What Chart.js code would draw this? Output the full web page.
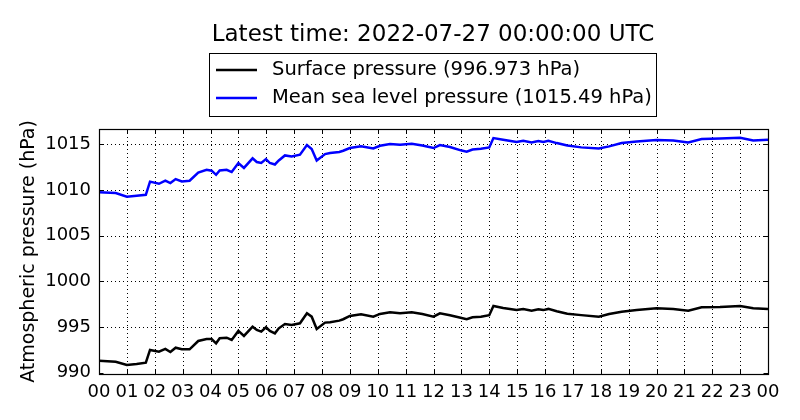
<!DOCTYPE html>
<html>
<head>
<meta charset="utf-8">
<script src="https://cdn.jsdelivr.net/npm/chart.js@4"></script>
<style>
html,body{margin:0;padding:0;background:#fff;}
canvas{display:block;}
</style>
</head>
<body>
<canvas id="c" width="800" height="420" style="width:800px;height:420px"></canvas>
<script>
const chartTitle = "Latest time: 2022-07-27 00:00:00 UTC";
const yAxisTitle = "Atmospheric pressure (hPa)";
const seriesLabels = ["Surface pressure (996.973 hPa)", "Mean sea level pressure (1015.49 hPa)"];
const seriesColors = ["#000000", "#0000ff"];

const hours = [0, 0.6, 1.0, 1.35, 1.68, 1.83, 2.15, 2.38, 2.56, 2.75, 2.97, 3.25, 3.56, 3.86, 4.04, 4.2, 4.33, 4.58, 4.76, 5.0,
  5.2, 5.51, 5.66, 5.82, 5.99, 6.13, 6.31, 6.45, 6.67, 6.91, 7.21, 7.46, 7.63, 7.81, 8.11, 8.29, 8.62, 8.76, 9.0, 9.4,
  9.84, 10.08, 10.44, 10.8, 11.22, 11.6, 12.0, 12.23, 12.59, 13.01, 13.19, 13.4, 13.7, 14.0, 14.15, 14.5, 14.98, 15.22, 15.52, 15.76,
  15.94, 16.12, 16.42, 16.8, 17.3, 17.93, 18.3, 18.75, 19.29, 20.0, 20.6, 21.14, 21.62, 22.28, 23.0, 23.47, 24.0];

const surfacePressure = [991.31, 991.2, 990.84, 990.95, 991.1, 992.49, 992.3, 992.6, 992.27, 992.74, 992.56, 992.56, 993.47, 993.69, 993.69, 993.22, 993.77, 993.83, 993.58, 994.57,
  994.02, 995.04, 994.68, 994.49, 994.97, 994.57, 994.31, 994.86, 995.33, 995.22, 995.41, 996.5, 996.13, 994.79, 995.48, 995.52, 995.7, 995.85, 996.21, 996.4,
  996.13, 996.43, 996.61, 996.5, 996.61, 996.43, 996.13, 996.5, 996.29, 995.99, 995.85, 996.07, 996.13, 996.29, 997.3, 997.09, 996.87, 996.98, 996.79, 996.94,
  996.85, 996.98, 996.72, 996.45, 996.3, 996.13, 996.43, 996.68, 996.87, 997.05, 996.98, 996.79, 997.16, 997.2, 997.3, 997.05, 996.97];

const seaLevelPressure = [1009.75, 1009.65, 1009.25, 1009.35, 1009.46, 1010.9, 1010.67, 1011.0, 1010.74, 1011.18, 1010.92, 1011.0, 1011.9, 1012.2, 1012.1, 1011.65, 1012.12, 1012.2, 1011.95, 1012.94,
  1012.4, 1013.45, 1013.05, 1012.94, 1013.37, 1012.94, 1012.78, 1013.22, 1013.77, 1013.66, 1013.85, 1014.9, 1014.47, 1013.22, 1013.92, 1014.03, 1014.14, 1014.28, 1014.58, 1014.76,
  1014.54, 1014.83, 1015.02, 1014.94, 1015.05, 1014.86, 1014.58, 1014.9, 1014.69, 1014.3, 1014.17, 1014.42, 1014.5, 1014.64, 1015.67, 1015.49, 1015.23, 1015.38, 1015.19, 1015.34,
  1015.23, 1015.38, 1015.12, 1014.85, 1014.65, 1014.53, 1014.76, 1015.12, 1015.3, 1015.45, 1015.41, 1015.19, 1015.56, 1015.63, 1015.7, 1015.41, 1015.49];

const xRange = [0, 24];
const xStep = 1;
const yRange = [989.86, 1016.66];
const yStep = 5;

const FONT = "'DejaVu Sans', sans-serif";

function toPoints(xs, ys) { return xs.map((x, i) => ({x: x, y: ys[i]})); }

const decorPlugin = {
  id: 'decor',
  beforeDatasetsDraw(chart) {
    const ctx = chart.ctx, a = chart.chartArea;
    const xs = chart.scales.x, ys = chart.scales.y;
    ctx.save();
    ctx.strokeStyle = '#000';
    ctx.lineWidth = 1;
    ctx.setLineDash([1, 3]);
    xs.ticks.forEach(t => {
      const px = Math.round(xs.getPixelForValue(t.value)) + 0.5;
      if (px <= a.left + 1 || px >= a.right - 1) return;
      ctx.beginPath(); ctx.moveTo(px, a.top); ctx.lineTo(px, a.bottom); ctx.stroke();
    });
    ys.ticks.forEach(t => {
      const py = Math.round(ys.getPixelForValue(t.value)) + 0.5;
      if (py <= a.top + 1 || py >= a.bottom - 1) return;
      ctx.beginPath(); ctx.moveTo(a.left, py); ctx.lineTo(a.right, py); ctx.stroke();
    });
    ctx.restore();
  },
  afterDatasetsDraw(chart) {
    const ctx = chart.ctx, a = chart.chartArea;
    const xs = chart.scales.x, ys = chart.scales.y;
    ctx.save();
    ctx.strokeStyle = '#000';
    ctx.lineWidth = 1;
    const tl = 4.5;
    xs.ticks.forEach(t => {
      const px = Math.round(xs.getPixelForValue(t.value)) + 0.5;
      ctx.beginPath();
      ctx.moveTo(px, a.bottom); ctx.lineTo(px, a.bottom - tl);
      ctx.moveTo(px, a.top); ctx.lineTo(px, a.top + tl);
      ctx.stroke();
    });
    ys.ticks.forEach(t => {
      const py = Math.round(ys.getPixelForValue(t.value)) + 0.5;
      ctx.beginPath();
      ctx.moveTo(a.left, py); ctx.lineTo(a.left + tl, py);
      ctx.moveTo(a.right, py); ctx.lineTo(a.right - tl, py);
      ctx.stroke();
    });
    ctx.lineWidth = 1.2;
    ctx.strokeRect(Math.round(a.left) + 0.5, Math.round(a.top) + 0.5, Math.round(a.right - a.left), Math.round(a.bottom - a.top));

    // y axis title
    ctx.fillStyle = '#000';
    ctx.font = '19px ' + FONT;
    ctx.textAlign = 'center';
    ctx.textBaseline = 'middle';
    ctx.translate(29, (a.top + a.bottom) / 2);
    ctx.rotate(-Math.PI / 2);
    ctx.fillText(yAxisTitle, 0, 0);
    ctx.restore();

    // title
    ctx.save();
    ctx.fillStyle = '#000';
    ctx.font = '23px ' + FONT;
    ctx.textAlign = 'center';
    ctx.textBaseline = 'middle';
    ctx.fillText(chartTitle, 433, 35);

    // legend
    ctx.fillStyle = '#fff';
    ctx.fillRect(209.5, 53.5, 447, 63);
    ctx.strokeStyle = '#000';
    ctx.lineWidth = 1;
    ctx.strokeRect(209.5, 53.5, 447, 63);
    const rows = [70, 98];
    chart.data.datasets.forEach((ds, i) => {
      ctx.strokeStyle = ds.borderColor;
      ctx.lineWidth = 2.5;
      ctx.beginPath(); ctx.moveTo(216, rows[i]); ctx.lineTo(257, rows[i]); ctx.stroke();
      ctx.fillStyle = '#000';
      ctx.font = '19.5px ' + FONT;
      ctx.textAlign = 'left';
      ctx.textBaseline = 'middle';
      ctx.fillText(ds.label, 272, rows[i]);
    });
    ctx.restore();
  }
};

new Chart(document.getElementById('c'), {
  type: 'line',
  data: {
    datasets: [
      {label: seriesLabels[0], data: toPoints(hours, surfacePressure), borderColor: seriesColors[0], borderWidth: 2.5, pointRadius: 0, tension: 0, fill: false},
      {label: seriesLabels[1], data: toPoints(hours, seaLevelPressure), borderColor: seriesColors[1], borderWidth: 2.5, pointRadius: 0, tension: 0, fill: false}
    ]
  },
  options: {
    responsive: false,
    animation: false,
    devicePixelRatio: 1,
    layout: {padding: {top: 129, right: 32, left: 0, bottom: 0}},
    plugins: {legend: {display: false}, title: {display: false}, tooltip: {enabled: false}},
    scales: {
      x: {
        type: 'linear', min: xRange[0], max: xRange[1],
        grid: {display: false, drawTicks: false},
        border: {display: false},
        ticks: {stepSize: xStep, autoSkip: false, maxRotation: 0, includeBounds: false, padding: 8, color: '#000',
          font: {family: FONT, size: 18},
          callback: v => String(v % 24).padStart(2, '0')},
        afterFit: s => { s.height = 46; }
      },
      y: {
        type: 'linear', min: yRange[0], max: yRange[1],
        grid: {display: false, drawTicks: false},
        border: {display: false},
        ticks: {stepSize: yStep, includeBounds: false, padding: 8, color: '#000', font: {family: FONT, size: 18},
          callback: v => String(Math.round(v))},
        afterFit: s => { s.width = 99; }
      }
    }
  },
  plugins: [decorPlugin]
});
</script>
</body>
</html>
